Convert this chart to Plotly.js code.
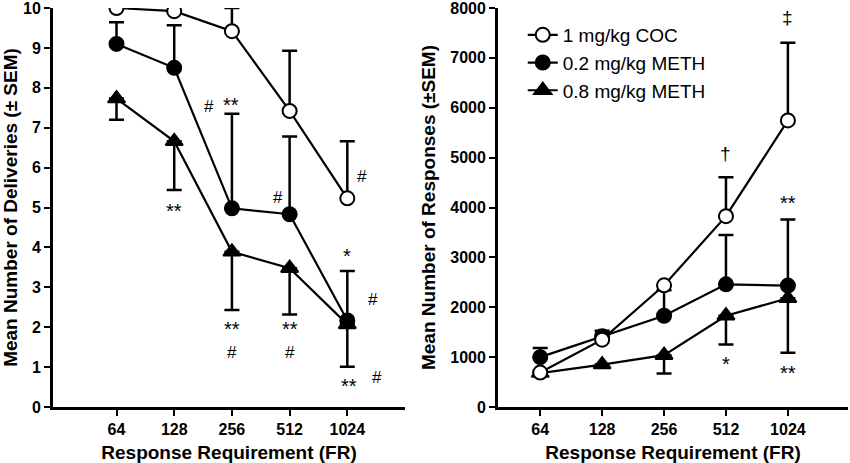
<!DOCTYPE html>
<html>
<head>
<meta charset="utf-8">
<script src="https://cdn.plot.ly/plotly-3.0.1.min.js"></script>
<style>html,body{margin:0;padding:0;background:#fff;}#chart{width:850px;height:463px;}</style>
</head>
<body>
<div id="chart"></div>
<script>
var categories = ['64', '128', '256', '512', '1024'];
var seriesNames = ['1 mg/kg COC', '0.2 mg/kg METH', '0.8 mg/kg METH'];

// Left panel: deliveries
var delivCOC = [10.0, 9.92, 9.42, 7.42, 5.23];
var delivCOCsem = [0, 0, 0.58, 1.51, 1.43];
var deliv02 = [9.1, 8.5, 4.98, 4.83, 2.17];
var deliv02sem = [0.54, 1.07, 2.37, 1.95, 1.24];
var deliv08 = [7.73, 6.66, 3.89, 3.48, 2.07];
var deliv08sem = [0.53, 1.22, 1.46, 1.16, 1.06];

// Right panel: responses
var respCOC = [690, 1350, 2440, 3826, 5746];
var respCOCsem = [0, 0, 0, 780, 1557];
var resp02 = [1000, 1420, 1830, 2460, 2435];
var resp02sem = [185, 110, 510, 990, 1325];
var resp08 = [680, 850, 1040, 1830, 2180];
var resp08sem = [0, 0, 370, 575, 1090];

var leftTicks = [0,1,2,3,4,5,6,7,8,9,10];
var rightTicks = [0,1000,2000,3000,4000,5000,6000,7000,8000];

function trace(y, sem, up, name, symbol, fill, xa, ya, show, rank) {
  var zeros = sem.map(function(){return 0;});
  return {
    x: categories, y: y, name: name, type: 'scatter', mode: 'lines+markers',
    xaxis: xa, yaxis: ya, showlegend: show, legendrank: rank,
    line: {color: '#000', width: 2.2},
    marker: {symbol: symbol, size: symbol === 'triangle-up' ? 15 : 14, color: fill, line: {color: '#000', width: 2}},
    error_y: {type: 'data', symmetric: false,
      array: up ? sem : zeros, arrayminus: up ? zeros : sem,
      color: '#000', thickness: 2.5, width: 7.5}
  };
}

var data = [
  trace(deliv08, deliv08sem, false, seriesNames[2], 'triangle-up', '#000', 'x', 'y', false, 3),
  trace(deliv02, deliv02sem, true, seriesNames[1], 'circle', '#000', 'x', 'y', false, 2),
  trace(delivCOC, delivCOCsem, true, seriesNames[0], 'circle', '#fff', 'x', 'y', false, 1),
  trace(resp08, resp08sem, false, seriesNames[2], 'triangle-up', '#000', 'x2', 'y2', true, 3),
  trace(resp02, resp02sem, true, seriesNames[1], 'circle', '#000', 'x2', 'y2', true, 2),
  trace(respCOC, respCOCsem, true, seriesNames[0], 'circle', '#fff', 'x2', 'y2', true, 1)
];

var FAM = 'Arial, Liberation Sans, sans-serif';
var tickfont = {family: FAM, size: 16, color: '#000', weight: 'bold'};
var titlefont = {family: FAM, size: 19, color: '#000', weight: 'bold'};

function xaxis(domain, range, anchor) {
  return {domain: domain, anchor: anchor, type: 'category', range: range, showline: true, linewidth: 3, linecolor: '#000',
    ticks: 'outside', ticklen: 6, tickwidth: 2, tickcolor: '#000', showgrid: false, zeroline: false,
    tickfont: tickfont, title: {text: 'Response Requirement (FR)', font: titlefont, standoff: 9}};
}
function yaxis(anchor, range, ticks, title) {
  return {anchor: anchor, domain: [0, 1], range: range, showline: true, linewidth: 3, linecolor: '#000',
    ticks: 'outside', ticklen: 6, tickwidth: 2, tickcolor: '#000', showgrid: false, zeroline: false,
    tickmode: 'array', tickvals: ticks, ticktext: ticks.map(String), tickfont: tickfont,
    ticklabeloverflow: 'allow',
    title: {text: title, font: titlefont, standoff: 10}};
}

var annotations = [];
function ann(xref, yref, x, y, text, size) {
  annotations.push({xref: xref, yref: yref, x: x, y: y, text: text, showarrow: false,
    font: {family: FAM, size: size || 20, color: '#000'}, xanchor: 'center', yanchor: 'middle'});
}
// left panel significance marks
ann('x', 'y', 1.0, 4.90, '**');
ann('x', 'y', 1.61, 7.52, '#', 17);
ann('x', 'y', 1.99, 7.56, '**');
ann('x', 'y', 2.79, 5.26, '#', 17);
ann('x', 'y', 4.26, 5.78, '#', 17);
ann('x', 'y', 4.0, 3.78, '*');
ann('x', 'y', 4.45, 2.70, '#', 17);
ann('x', 'y', 2.0, 1.69, '<span style="font-size:20px">**</span><br>#', 17);
ann('x', 'y', 3.0, 1.69, '<span style="font-size:20px">**</span><br>#', 17);
ann('x', 'y', 4.03, 0.52, '**');
ann('x', 'y', 4.52, 0.74, '#', 17);
// right panel significance marks
ann('x2', 'y2', 4.0, 7800, '‡', 19);
ann('x2', 'y2', 3.0, 5090, '†', 19);
ann('x2', 'y2', 4.0, 4100, '**');
ann('x2', 'y2', 3.0, 860, '*');
ann('x2', 'y2', 4.0, 690, '**');

var layout = {
  width: 850, height: 463,
  margin: {l: 0, r: 0, t: 8, b: 56},
  paper_bgcolor: '#fff', plot_bgcolor: '#fff',
  font: {family: FAM, color: '#000'},
  showlegend: true,
  legend: {x: 0.615, y: 0.98, xanchor: 'left', yanchor: 'top', bgcolor: 'rgba(0,0,0,0)',
    font: {family: FAM, size: 19, color: '#000'}, traceorder: 'normal', itemwidth: 30},
  xaxis: xaxis([0.0624, 0.4765], [-1.1, 5.0], 'y'),
  yaxis: yaxis('x', [0, 10], leftTicks, 'Mean Number of Deliveries (± SEM)'),
  xaxis2: xaxis([0.586, 0.9976], [-0.68, 4.97], 'y2'),
  yaxis2: yaxis('x2', [0, 8000], rightTicks, 'Mean Number of Responses (±SEM)'),
  annotations: annotations
};

Plotly.newPlot('chart', data, layout, {displayModeBar: false, staticPlot: true});
</script>
</body>
</html>
